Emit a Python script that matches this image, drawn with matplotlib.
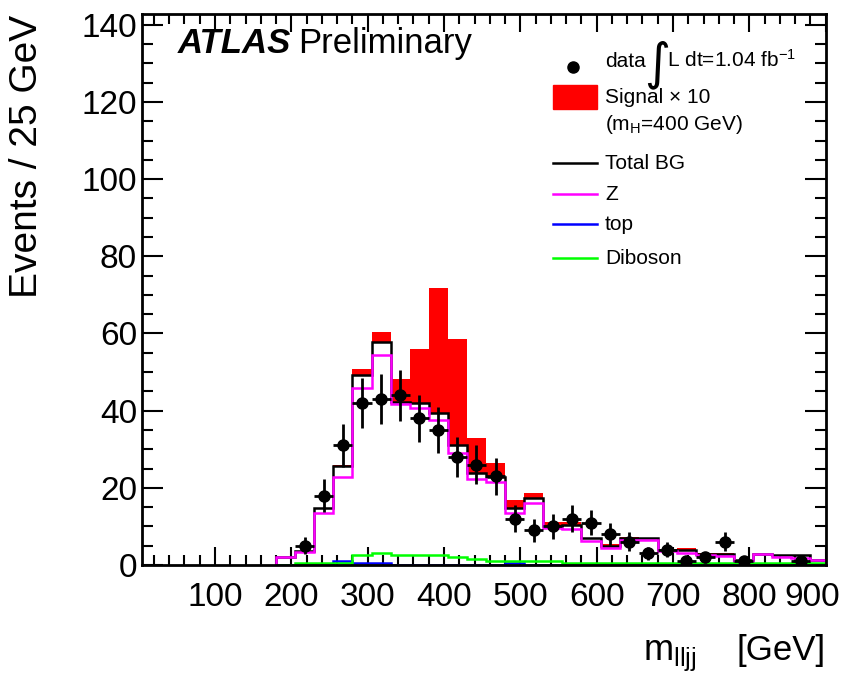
"""
      m_lljj distribution: data, stacked background lines and signal x10.
"""
import numpy as np
import matplotlib
matplotlib.use("Agg")
import matplotlib.pyplot as plt
from matplotlib.lines import Line2D
from matplotlib.patches import Rectangle
from matplotlib.ticker import MultipleLocator, FixedLocator
import matplotlib.transforms as mtransforms

plt.rcParams['font.family'] = ['Liberation Sans', 'DejaVu Sans']
plt.rcParams['mathtext.fontset'] = 'custom'
plt.rcParams['mathtext.rm'] = 'Liberation Sans'
plt.rcParams['mathtext.it'] = 'Liberation Sans:italic'

# bin edges (25 GeV bins from 180 GeV)
edges = np.arange(180, 906, 25)

# Z + jets
z_bg = [2.1, 3.4, 13.4, 22.9, 46.0, 54.4, 41.7, 40.6, 37.6, 29.1, 22.2, 21.6,
        13.4, 16.1, 9.6, 9.4, 6.3, 4.4, 6.5, 6.4, 3.5, 3.2, 2.6, 2.4, 0.9,
        2.8, 2.2, 1.7, 1.3]
# total background
total_bg = [2.2, 3.6, 14.7, 25.6, 49.2, 57.7, 42.3, 42.0, 39.5, 31.1, 23.9, 22.9,
            14.7, 17.4, 10.2, 10.4, 6.9, 4.9, 7.1, 7.1, 4.0, 3.9, 2.8, 2.9, 1.3,
            2.8, 2.6, 2.6, 1.4]
# signal (mH = 400 GeV) scaled by 10, stacked on total BG
signal_x10 = [0.0, 0.0, 0.0, 0.2, 1.5, 2.6, 5.8, 13.9, 32.4, 27.4, 8.9, 3.6,
              2.1, 1.2, 0.9, 0.8, 0.0, 0.5, 0.2, 0.0, 0.0, 0.6, 0.4, 0.3, 0.0,
              0.0, 0.0, 0.0, 0.0]
# top
top_bg = [0.0, 0.0, 0.0, 1.0, 0.4, 0.4, 0.0, 0.0, 0.0, 0.0, 0.0, 0.0,
          0.4, 0.0, 0.0, 0.0, 0.0, 0.0, 0.0, 0.0, 0.0, 0.0, 0.0, 0.0, 0.0,
          0.0, 0.0, 0.0, 0.0]
# diboson
diboson = [0.0, 0.6, 0.6, 0.6, 2.7, 3.2, 2.7, 2.7, 2.7, 2.2, 1.5, 1.1,
           1.1, 1.1, 1.1, 0.5, 0.5, 0.5, 0.5, 0.5, 0.5, 0.5, 0.5, 0.5, 0.5,
           0.5, 0.5, 0.5, 0.5]
# observed events
data = [0, 5, 18, 31, 42, 43, 44, 38, 35, 28, 26, 23,
        12, 9, 10, 12, 11, 8, 6, 3, 4, 1, 2, 6, 1,
        0, 0, 1, 0]

W, H = 854, 675


def fx(px):
    return px / W


def fy(py):
    return 1 - py / H


fig = plt.figure(figsize=(W / 100, H / 100), dpi=100)
ax = fig.add_axes([fx(142.5), fy(565), fx(825.7) - fx(142.5), fy(14) - fy(565)])

total = np.array(total_bg)
lw = 1.8
ax.stairs(total + np.array(signal_x10), edges, fill=True, color='#ff0000', zorder=1)
ax.stairs(total, edges, fill=True, color='white', zorder=1.5)
ax.stairs(total, edges, color='black', lw=lw, zorder=2)
ax.stairs(z_bg, edges, color='#ff00ff', lw=lw, zorder=2.1)
ax.stairs(top_bg, edges, color='#0000ff', lw=lw, zorder=2.2)
ax.stairs(diboson, edges, color='#00ff00', lw=lw, zorder=2.3)

centers = 0.5 * (edges[:-1] + edges[1:])
d = np.array(data, dtype=float)
m = d > 0
ax.errorbar(centers[m], d[m], yerr=np.sqrt(d[m]), xerr=12.5, fmt='o', color='black',
            ms=8, elinewidth=2, capsize=0, zorder=3)

ax.set_xlim(5, 900)
ax.set_ylim(0, 142.8)
ax.xaxis.set_major_locator(FixedLocator([100, 200, 300, 400, 500, 600, 700, 800, 900]))
ax.xaxis.set_minor_locator(MultipleLocator(20))
ax.yaxis.set_major_locator(MultipleLocator(20))
ax.yaxis.set_minor_locator(MultipleLocator(5))
ax.tick_params(which='both', direction='in', top=True, right=True, width=1.5,
               labelsize=24, colors='black')
ax.tick_params(axis='x', which='major', length=13, pad=12)
ax.tick_params(axis='x', which='minor', length=7)
ax.tick_params(axis='y', which='major', length=15, pad=4)
ax.tick_params(axis='y', which='minor', length=8)
for s in ax.spines.values():
    s.set_linewidth(2)
    s.set_zorder(5)

# last label pulled inside the frame
lbl = ax.get_xticklabels()[-1]
lbl.set_transform(lbl.get_transform() + mtransforms.ScaledTranslation(-14 / 100, 0, fig.dpi_scale_trans))

# axis titles
fig.text(fx(27), fy(15), "Events / 25 GeV", rotation=90, ha='center', va='top', fontsize=28)
fig.text(fx(826), fy(660), "[GeV]", ha='right', va='baseline', fontsize=25)
fig.text(fx(643), fy(660), r"m$_{\mathrm{lljj}}$", ha='left', va='baseline', fontsize=26)

# experiment label
fig.text(fx(178), fy(53), "ATLAS", ha='left', va='baseline', fontsize=25,
         fontweight='bold', fontstyle='italic')
fig.text(fx(298), fy(53), "Preliminary", ha='left', va='baseline', fontsize=25)

# legend
fig.add_artist(Line2D([fx(573)], [fy(67)], marker='o', ms=8, color='black',
                      transform=fig.transFigure))
fig.text(fx(605), fy(67), "data", ha='left', va='baseline', fontsize=15)
fig.text(fx(644), fy(78), "\u222b", ha='left', va='baseline', fontsize=36,
         family=['DejaVu Sans'])
fig.text(fx(667), fy(67), r"L dt=1.04 fb$^{\mathrm{-1}}$", ha='left', va='baseline',
         fontsize=15)

fig.add_artist(Rectangle((fx(553), fy(109)), fx(597) - fx(553), fy(85) - fy(109),
                         color='#ff0000', transform=fig.transFigure))
fig.text(fx(605), fy(103), "Signal \u00d7 10", ha='left', va='baseline', fontsize=15)
fig.text(fx(605), fy(130), r"(m$_{\mathrm{H}}$=400 GeV)", ha='left', va='baseline',
         fontsize=15)

legend_lines = [("Total BG", 'black', 163), ("Z", '#ff00ff', 194),
                ("top", '#0000ff', 224), ("Diboson", '#00ff00', 258)]
for name, col, py in legend_lines:
    fig.add_artist(Line2D([fx(553), fx(597)], [fy(py), fy(py)], color=col, lw=lw,
                          transform=fig.transFigure))
    fig.text(fx(605), fy(py + 6), name, ha='left', va='baseline', fontsize=15)

fig.savefig("out.png", dpi=100)
